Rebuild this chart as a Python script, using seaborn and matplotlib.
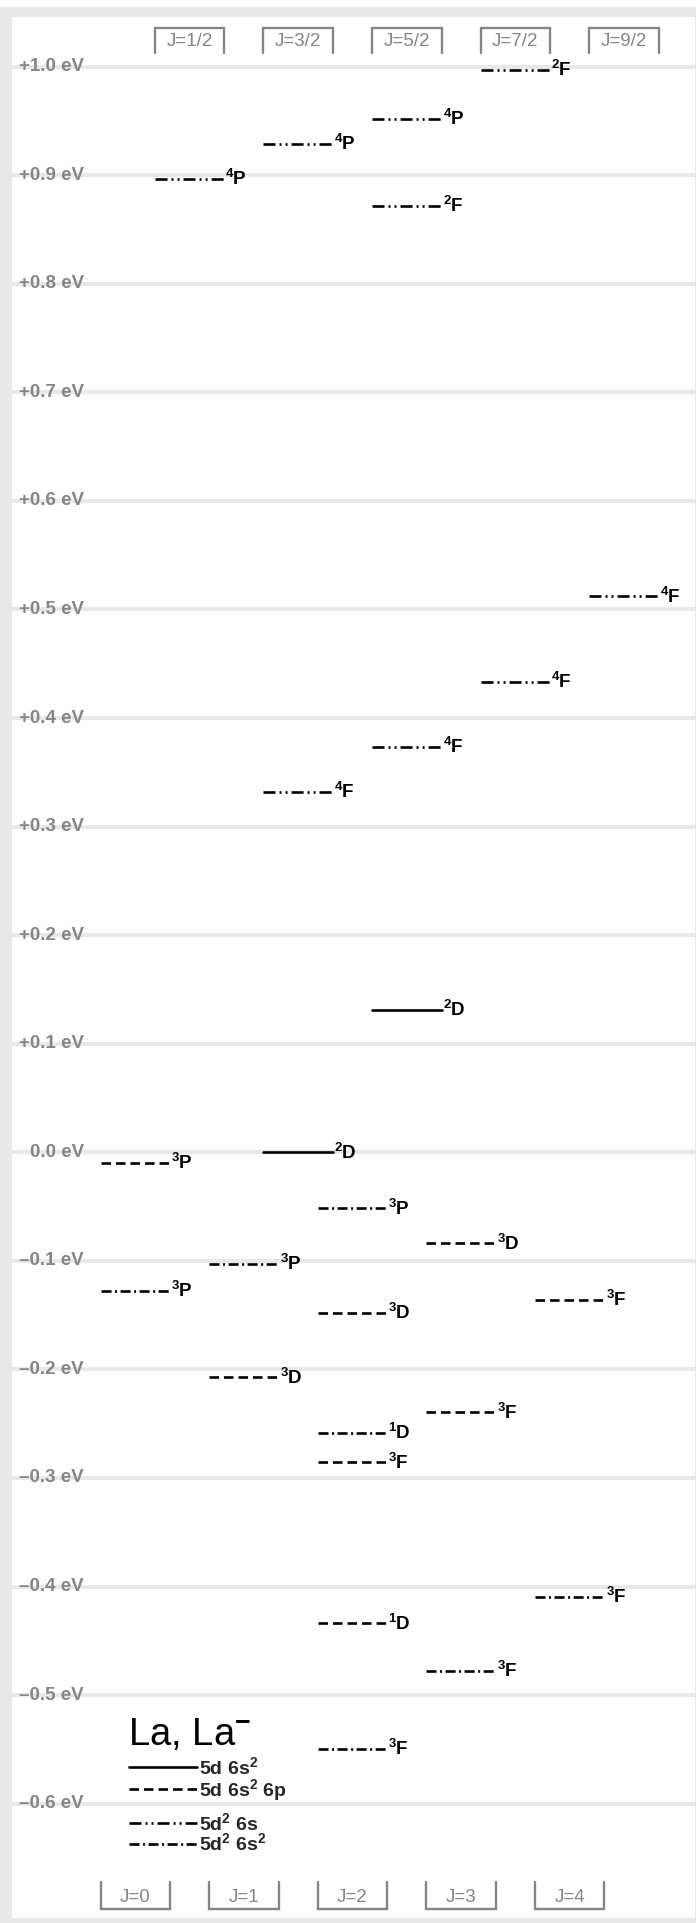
import matplotlib
matplotlib.use("Agg")
import matplotlib.pyplot as plt
import matplotlib.transforms as mtransforms
from matplotlib.patches import Rectangle
import pandas as pd
import seaborn as sns

# ---- energy levels of neutral La (half-integer J) and La- (integer J), in eV
la_j = [0.5, 1.5, 1.5, 1.5, 2.5, 2.5, 2.5, 2.5, 3.5, 3.5, 4.5]
la_energy = [0.8965, 0.929, 0.332, 0.0, 0.952, 0.872, 0.3736, 0.1311, 0.997, 0.4335, 0.512]
la_config = ["d2s", "d2s", "d2s", "ds2", "d2s", "d2s", "d2s", "ds2", "d2s", "d2s", "d2s"]
la_term = ["4P", "4P", "4F", "2D", "4P", "2F", "4F", "2D", "2F", "4F", "4F"]

ion_j = [0, 0, 1, 1, 2, 2, 2, 2, 2, 2, 3, 3, 3, 4, 4]
ion_energy = [-0.0096, -0.1275, -0.1029, -0.2073, -0.0516, -0.1476, -0.2583,
              -0.2856, -0.4339, -0.5497, -0.0838, -0.2395, -0.4775, -0.136, -0.4094]
ion_config = ["ds2p", "d2s2", "d2s2", "ds2p", "d2s2", "ds2p", "d2s2",
              "ds2p", "ds2p", "d2s2", "ds2p", "ds2p", "d2s2", "ds2p", "d2s2"]
ion_term = ["3P", "3P", "3P", "3D", "3P", "3D", "1D", "3F", "1D", "3F",
            "3D", "3F", "3F", "3F", "3F"]

config_order = ["ds2", "ds2p", "d2s", "d2s2"]
config_names = ["5d 6s$^2$", "5d 6s$^2$ 6p", "5d$^2$ 6s", "5d$^2$ 6s$^2$"]

energy_ticks = [1.0, 0.9, 0.8, 0.7, 0.6, 0.5, 0.4, 0.3, 0.2, 0.1, 0.0,
                -0.1, -0.2, -0.3, -0.4, -0.5, -0.6]
energy_tick_labels = ["+1.0 eV", "+0.9 eV", "+0.8 eV", "+0.7 eV", "+0.6 eV",
                      "+0.5 eV", "+0.4 eV", "+0.3 eV", "+0.2 eV", "+0.1 eV",
                      "0.0 eV", "\u20130.1 eV", "\u20130.2 eV", "\u20130.3 eV",
                      "\u20130.4 eV", "\u20130.5 eV", "\u20130.6 eV"]
top_j = [0.5, 1.5, 2.5, 3.5, 4.5]
top_j_labels = ["J=1/2", "J=3/2", "J=5/2", "J=7/2", "J=9/2"]
bottom_j = [0, 1, 2, 3, 4]
bottom_j_labels = ["J=0", "J=1", "J=2", "J=3", "J=4"]

# ---- style
sns.set_style("white")
plt.rcParams["font.family"] = ["Liberation Sans", "DejaVu Sans"]
plt.rcParams["mathtext.fontset"] = "custom"
plt.rcParams["mathtext.rm"] = "Liberation Sans:bold"
plt.rcParams["mathtext.bf"] = "Liberation Sans:bold"
plt.rcParams["mathtext.it"] = "Liberation Sans:bold:italic"
plt.rcParams["mathtext.sf"] = "Liberation Sans:bold"
plt.rcParams["mathtext.default"] = "rm"

LW = 1.9
dash_styles = {
    "ds2": "",
    "ds2p": (3.6, 1.9),
    "d2s": (4.55, 1.52, 0.76, 1.52, 0.76, 1.52),
    "d2s2": (3.8, 1.33, 0.76, 1.33),
}
GRID = "#e8e8e8"
GREY = "#858585"
HALF = 0.32  # half width of a level bar, in J units

# ---- page geometry (pixels)
W, H = 696, 1923
X0, PX_PER_J = 135.3, 108.6
Y0, PX_PER_EV = 1152.3, 1085.6


def fx(px):
    return px / W


def fy(px):
    return 1 - px / H


fig = plt.figure(figsize=(W / 100, H / 100), dpi=100)
fig.patch.set_facecolor("white")
fig.patches.append(Rectangle((0, 0), 1, fy(6.7), transform=fig.transFigure,
                             facecolor=GRID, edgecolor="none", zorder=-10))
fig.patches.append(Rectangle((fx(11.7), fy(1918.3)), fx(695) - fx(11.7),
                             fy(16.7) - fy(1918.3), transform=fig.transFigure,
                             facecolor="white", edgecolor="none", zorder=-9))

ax = fig.add_axes([0, 0, 1, 1])
ax.patch.set_alpha(0)
ax.set_xlim(-X0 / PX_PER_J, (W - X0) / PX_PER_J)
ax.set_ylim((Y0 - H) / PX_PER_EV, Y0 / PX_PER_EV)
ax.set_axis_off()

# gridlines and energy labels
for e, lab in zip(energy_ticks, energy_tick_labels):
    ax.axhline(e, xmin=fx(11.7), xmax=1, color=GRID, lw=2.9, zorder=0.5)
    ax.text(fx(84), e, lab, transform=ax.get_yaxis_transform(), ha="right",
            va="center", color=GREY, fontsize=13.5, fontweight="bold", zorder=1)

# level bars
js = la_j + ion_j
es = la_energy + ion_energy
cs = la_config + ion_config
ts = la_term + ion_term
rows = []
for i, (j, e, c) in enumerate(zip(js, es, cs)):
    rows.append({"level": i, "x": j - HALF, "energy": e, "config": c})
    rows.append({"level": i, "x": j + HALF, "energy": e, "config": c})
df = pd.DataFrame(rows)
sns.lineplot(data=df, x="x", y="energy", units="level", estimator=None,
             style="config", style_order=config_order, dashes=dash_styles,
             color="black", lw=LW, sort=False, legend=False, ax=ax, zorder=3)

for j, e, t in zip(js, es, ts):
    ax.annotate(f"$^{{{t[0]}}}${t[1]}", xy=(j + HALF, e), xytext=(0.8, -4.6),
                textcoords="offset points", ha="left", va="baseline",
                fontsize=13.5, fontweight="bold", color="black", zorder=4)

# J column headers
blend = mtransforms.blended_transform_factory(ax.transData, ax.transAxes)
for j, lab in zip(top_j, top_j_labels):
    ax.plot([j - HALF, j - HALF, j + HALF, j + HALF],
            [fy(53), fy(27.5), fy(27.5), fy(53)], transform=blend,
            color=GREY, lw=1.7, solid_joinstyle="miter")
    ax.text(j, fy(45.5), lab, transform=blend, ha="center", va="baseline",
            color=GREY, fontsize=13.5)
for j, lab in zip(bottom_j, bottom_j_labels):
    ax.plot([j - HALF, j - HALF, j + HALF, j + HALF],
            [fy(1882), fy(1908.5), fy(1908.5), fy(1882)], transform=blend,
            color=GREY, lw=1.7, solid_joinstyle="miter")
    ax.text(j, fy(1902.5), lab, transform=blend, ha="center", va="baseline",
            color=GREY, fontsize=13.5)

# configuration key
ax.text(fx(128), fy(1745), "La, La$^{-}$", transform=ax.transAxes,
        ha="left", va="baseline", fontsize=27.5, color="black")
key_rows = [1767, 1789, 1823, 1843.5]
for c, name, ypx in zip(config_order, config_names, key_rows):
    d = dash_styles[c]
    ax.plot([fx(128.5), fx(196.5)], [fy(ypx), fy(ypx)], transform=ax.transAxes,
            color="black", lw=LW, dashes=d if d else (None, None))
    ax.annotate(name, xy=(fx(196.5), fy(ypx)), xycoords="axes fraction",
                xytext=(1.5, -4.8), textcoords="offset points", ha="left",
                va="baseline", fontsize=14, fontweight="bold")

fig.savefig("out.png", dpi=100, facecolor="white")
